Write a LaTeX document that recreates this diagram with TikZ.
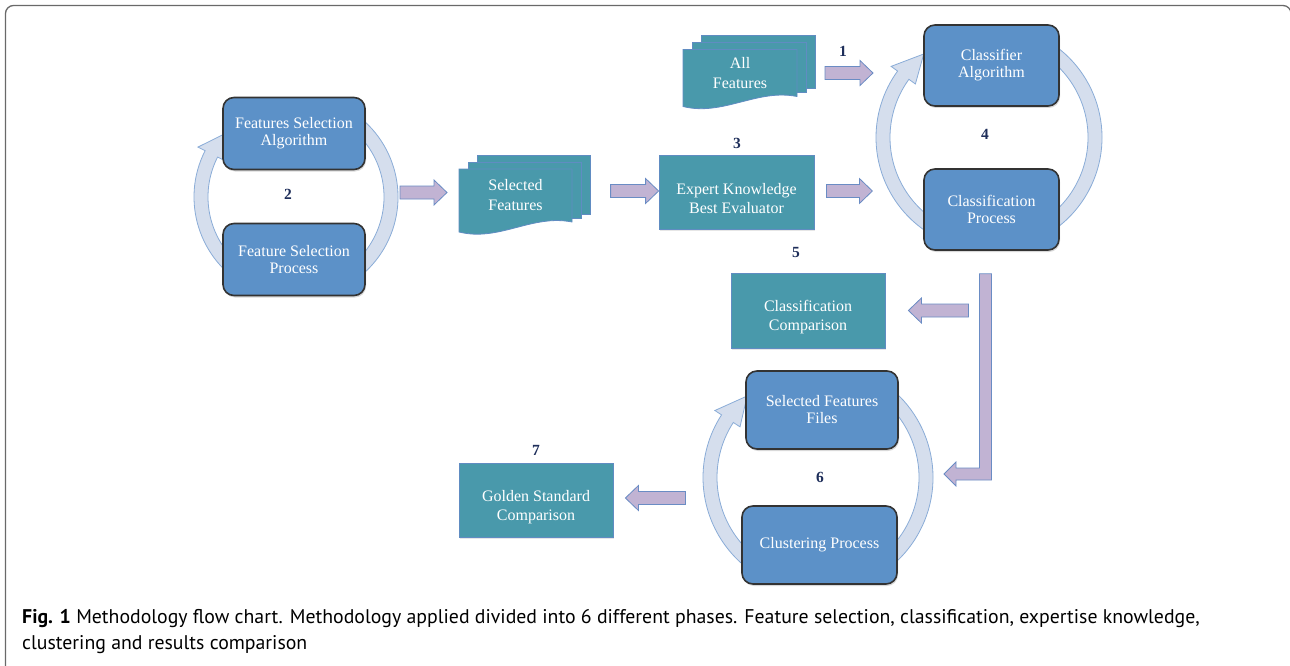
\documentclass[tikz,border=0pt]{standalone}
\usepackage{fontspec}
\setmainfont{Liberation Serif}
\newfontfamily\capfont{PT Sans}
\usetikzlibrary{calc,shadows,backgrounds}

\definecolor{boxblue}{RGB}{92,145,200}
\definecolor{boxteal}{RGB}{73,153,171}
\definecolor{tealedge}{RGB}{96,140,194}
\definecolor{ringfill}{RGB}{213,222,237}
\definecolor{ringedge}{RGB}{138,172,215}
\definecolor{arrfill}{RGB}{193,179,211}
\definecolor{arredge}{RGB}{106,140,196}
\definecolor{numcol}{RGB}{30,46,90}
\definecolor{framecol}{RGB}{105,105,105}

\tikzset{
  cyclebox/.style={draw=black!80, line width=1.6pt, rounded corners=11pt, fill=boxblue,
    text=white, align=center, inner sep=0pt, font=\fontsize{16}{17}\selectfont,
    drop shadow={opacity=0.3, shadow xshift=1pt, shadow yshift=-2pt}},
  tealbox/.style={draw=tealedge, line width=0.8pt, fill=boxteal, text=white, align=center,
    inner sep=0pt, font=\fontsize{16}{19}\selectfont,
    execute at begin node={\rule{0pt}{44pt}},
    drop shadow={opacity=0.2, shadow xshift=1pt, shadow yshift=-1.5pt}},
  docbox/.style={inner sep=0pt, outer sep=0pt, text=white, align=center,
    font=\fontsize{16}{20}\selectfont},
  sheet/.style={draw=tealedge, line width=0.8pt, fill=boxteal},
  ring/.style={draw=ringedge, line width=0.8pt, fill=ringfill},
  blockarr/.style={draw=arredge, line width=0.8pt, fill=arrfill},
  phase/.style={text=numcol, font=\bfseries\fontsize{15.5}{15.5}\selectfont},
  capline/.style={anchor=base west, inner sep=0pt, font=\capfont\fontsize{19.8}{22}\selectfont}
}

% block arrow from #1 to #2 (tip at #2)
\newcommand\blockarrow[2]{%
  \coordinate (hb) at ($(#2)!13pt!(#1)$);
  \draw[blockarr] ($(#1)!6.5pt!90:(#2)$) -- ($(hb)!6.5pt!90:(#2)$) -- ($(hb)!12.5pt!90:(#2)$)
    -- (#2) -- ($(hb)!12.5pt!-90:(#2)$) -- ($(hb)!6.5pt!-90:(#2)$) -- ($(#1)!6.5pt!-90:(#2)$) -- cycle;}

% ring of a cycle: centre, outer radius, inner radius, head base angle, tip angle
\newcommand\cyclering[5]{%
  \draw[ring] ([shift={(-62:#2)}]#1) arc[start angle=-62, end angle=62, radius=#2]
    -- ([shift={(62:#3)}]#1) arc[start angle=62, end angle=-62, radius=#3] -- cycle;
  \draw[ring] ([shift={(118:#2)}]#1) arc[start angle=118, end angle=#4, radius=#2]
    -- ([shift={(#4:#2+8)}]#1) -- ([shift={(#5:#2/2+#3/2)}]#1) -- ([shift={(#4:#3-8)}]#1)
    -- ([shift={(#4:#3)}]#1) arc[start angle=#4, end angle=118, radius=#3] -- cycle;}

% stacked document sheets behind a node
\newcommand\docsheets[1]{%
  \begin{pgfonlayer}{background}
    \draw[sheet] ([shift={(18,-14)}]#1.north west) rectangle ([shift={(18,-8)}]#1.south east);
    \draw[sheet] ([shift={(9,-7)}]#1.north west) rectangle ([shift={(9,-4)}]#1.south east);
    \draw[sheet] (#1.north west) -- (#1.north east) -- (#1.south east)
      .. controls ([shift={(-40,-8)}]#1.south east) and ([shift={(40,20)}]#1.south west)
      .. ([shift={(0,10)}]#1.south west) -- cycle;
  \end{pgfonlayer}}

\begin{document}
\begin{tikzpicture}[x=1pt, y=-1pt]
\useasboundingbox (0,0) rectangle (1290,666);
% Frame
\draw[framecol, line width=1.3pt, rounded corners=8pt] (5.5,690) -- (5.5,5.5) -- (1291,5.5) -- (1291,690);

% Rings of the cycles
\coordinate (c2) at (296,197);
\coordinate (c4) at (989,137.5);
\coordinate (c6) at (818,477.5);
\cyclering{c2}{102}{88}{207}{222}
\cyclering{c4}{113}{99}{216}{232}
\cyclering{c6}{115}{101}{213}{229}

% Cycle boxes
\node[cyclebox, minimum width=142pt, minimum height=72pt] (fsalg) at (294,133.5) {Features Selection\\Algorithm};
\node[cyclebox, minimum width=142pt, minimum height=72pt] (fsproc) at (294,259.5) {Feature Selection\\Process};
\node[cyclebox, minimum width=135pt, minimum height=81pt] (classalg) at (991.5,65.5) {Classifier\\Algorithm};
\node[cyclebox, minimum width=135pt, minimum height=81pt] (classproc) at (991.5,209.5) {Classification\\Process};
\node[cyclebox, minimum width=152pt, minimum height=78pt] (sffiles) at (822,410) {Selected Features\\Files};
\node[cyclebox, minimum width=155pt, minimum height=78pt] (clusproc) at (819.5,545) {Clustering Process};

% Plain boxes
\node[tealbox, minimum width=155pt, minimum height=74pt] (expert) at (736.5,192) {Expert Knowledge\\Best Evaluator};
\node[tealbox, minimum width=154pt, minimum height=75pt] (classcomp) at (808,310.5) {Classification\\Comparison};
\node[tealbox, minimum width=154pt, minimum height=74pt] (golden) at (536,500) {Golden Standard\\Comparison};

% Documents
\node[docbox, minimum width=114pt, minimum height=47pt] (allfeat) at (740,73) {All\\Features};
\node[docbox, minimum width=113pt, minimum height=53pt] (selfeat) at (515.5,195.5) {Selected\\Features};
\docsheets{allfeat}
\docsheets{selfeat}

% Arrows
\coordinate (a1s) at ([shift={(-59,-3)}]selfeat.west);
\coordinate (a1e) at ([shift={(-12,-3)}]selfeat.west);
\coordinate (a2s) at ([shift={(-48,-1)}]expert.west);
\coordinate (a2e) at ([shift={(0,-1)}]expert.west);
\coordinate (a3s) at ([shift={(12,-1)}]expert.east);
\coordinate (a3e) at ([shift={(58,-1)}]expert.east);
\coordinate (a4s) at ([xshift=28pt]allfeat.east);
\coordinate (a4e) at ([xshift=76pt]allfeat.east);
\coordinate (a5s) at ([xshift=83pt]classcomp.east);
\coordinate (a5e) at ([xshift=23pt]classcomp.east);
\coordinate (a6s) at ([shift={(72,-2)}]golden.east);
\coordinate (a6e) at ([shift={(12,-2)}]golden.east);
\blockarrow{a1s}{a1e}
\blockarrow{a2s}{a2e}
\blockarrow{a3s}{a3e}
\blockarrow{a4s}{a4e}
\blockarrow{a5s}{a5e}
\blockarrow{a6s}{a6e}
% Elbow arrow down to the clustering cycle
\coordinate (lstart) at ([shift={(-6,23)}]classproc.south);
\coordinate (lend) at (944,474);
\coordinate (lc) at (lstart |- lend);
\draw[blockarr] ($(lstart)+(-6,0)$) -- ($(lc)+(-6,-6)$) -- ($(lend)+(12,-6)$) -- ($(lend)+(12,-12)$)
  -- (lend) -- ($(lend)+(12,12)$) -- ($(lend)+(12,6)$) -- ($(lc)+(6,6)$) -- ($(lstart)+(6,0)$) -- cycle;

% Phase numbers
\node[phase] (n1) at (843,51) {1};
\node[phase] (n2) at (288,194) {2};
\node[phase] (n3) at (737,143) {3};
\node[phase] (n4) at (985,134) {4};
\node[phase] (n5) at (796,252) {5};
\node[phase] (n6) at (820,477) {6};
\node[phase] (n7) at (536,450) {7};

% Caption
\node[capline] (cap1) at (22,623) {\textbf{Fig. 1} Methodology flow chart. Methodology applied divided into 6 different phases. Feature selection, classification, expertise knowledge,};
\node[capline] (cap2) at (22,649) {clustering and results comparison};
\end{tikzpicture}
\end{document}
